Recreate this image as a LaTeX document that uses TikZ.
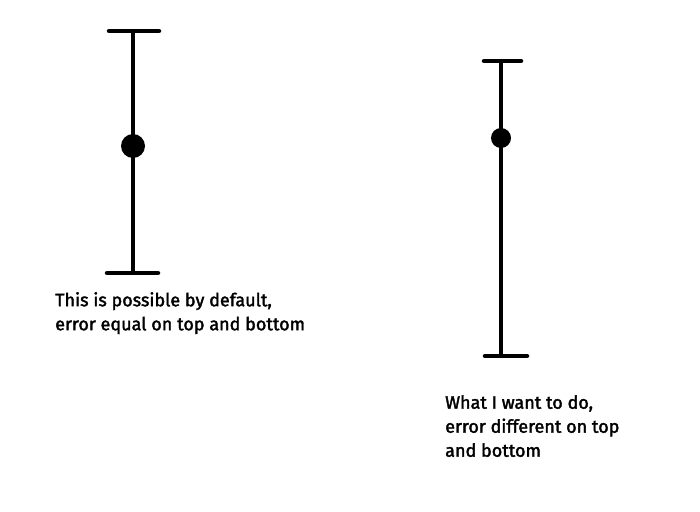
\documentclass[tikz,border=0pt]{standalone}
\usepackage{fontspec}
\setmainfont{Fira Sans}
\newfontfamily\notefont{Fira Sans}[FakeBold=2]
\usetikzlibrary{positioning}

\begin{document}
\begin{tikzpicture}[
  x=1pt,
  y=-1pt,
  every node/.style={inner sep=0pt},
  bar/.style={line width=4.5pt},
  whisker/.style={line width=4.5pt,line cap=round},
  dot/.style={circle,fill=black,draw=none},
  caption/.style={anchor=north west,align=left,font=\notefont\fontsize{18}{24}\selectfont}
]
\useasboundingbox (0,0) rectangle (700,511);

% Left bar
\coordinate (ltop) at (133,31);
\coordinate (lbot) at (133,273);
\coordinate (ltopl) at (109,31);
\coordinate (ltopr) at (159,31);
\coordinate (lbotl) at (107,273);
\coordinate (lbotr) at (158,273);
\draw[bar] (ltop) -- (lbot);
\draw[whisker] (ltopl) -- (ltopr);
\draw[whisker] (lbotl) -- (lbotr);
\node[dot,minimum size=24pt] (lmean) at (133,146) {};

% Right bar
\coordinate (rtop) at (501,61);
\coordinate (rbot) at (501,356);
\coordinate (rtopl) at (484,61);
\coordinate (rtopr) at (521,61);
\coordinate (rbotl) at (485,356);
\coordinate (rbotr) at (527,356);
\draw[bar] (rtop) -- (rbot);
\draw[whisker] (rtopl) -- (rtopr);
\draw[whisker] (rbotl) -- (rbotr);
\node[dot,minimum size=20pt] (rmean) at (501,138) {};

% Captions
\node[caption] (lnote) at (55,292) {This is possible by default,\\error equal on top and bottom};
\node[caption] (rnote) at (445,395) {What I want to do,\\error different on top\\and bottom};
\end{tikzpicture}
\end{document}
